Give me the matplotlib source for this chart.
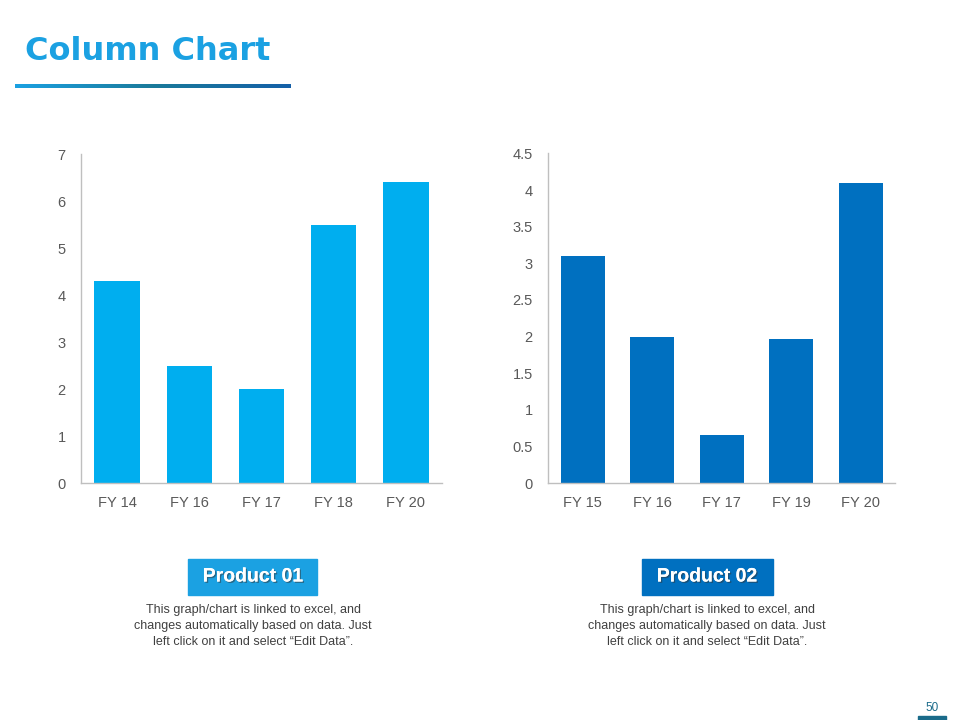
import numpy as np
import matplotlib.pyplot as plt
from matplotlib.patches import Rectangle
from matplotlib.colors import LinearSegmentedColormap
import matplotlib.patheffects as pe

# data
cats_1 = ['FY 14', 'FY 16', 'FY 17', 'FY 18', 'FY 20']
vals_1 = [4.3, 2.5, 2.0, 5.5, 6.4]
cats_2 = ['FY 15', 'FY 16', 'FY 17', 'FY 19', 'FY 20']
vals_2 = [3.1, 2.0, 0.65, 1.97, 4.1]
yticks_1 = [0, 1, 2, 3, 4, 5, 6, 7]
yticks_2 = [0, 0.5, 1, 1.5, 2, 2.5, 3, 3.5, 4, 4.5]
ytick_labels_2 = ['0', '0.5', '1', '1.5', '2', '2.5', '3', '3.5', '4', '4.5']

desc = 'This graph/chart is linked to excel, and\nchanges automatically based on data. Just\nleft click on it and select \u201cEdit Data\u201d.'

plt.rcParams['font.family'] = ['Liberation Sans', 'DejaVu Sans']

fig = plt.figure(figsize=(9.6, 7.2), dpi=100, facecolor='white')

def bar_panel(rect, cats, vals, color, yticks, ylabels):
    ax = fig.add_axes(rect)
    x = np.arange(len(cats))
    ax.bar(x, vals, width=0.63, color=color)
    ax.set_xlim(-0.5, len(cats) - 0.5)
    ax.set_ylim(yticks[0], yticks[-1])
    ax.set_yticks(yticks)
    ax.set_yticklabels(ylabels)
    ax.set_xticks(x)
    ax.set_xticklabels(cats)
    for s in ['top', 'right']:
        ax.spines[s].set_visible(False)
    for s in ['left', 'bottom']:
        ax.spines[s].set_color('#bfbfbf')
        ax.spines[s].set_linewidth(1.0)
    ax.tick_params(length=0, labelsize=10.5, labelcolor='#595959')
    ax.tick_params(axis='y', pad=11)
    ax.tick_params(axis='x', pad=9)
    return ax

bar_panel([0.0844, 0.329, 0.376, 0.457], cats_1, vals_1, '#00aeef',
          yticks_1, [str(v) for v in yticks_1])
bar_panel([0.5708, 0.329, 0.362, 0.458], cats_2, vals_2, '#0070c0',
          yticks_2, ytick_labels_2)

# title
fig.text(25 / 960, 1 - 52 / 720, 'Column Chart', fontsize=23, fontweight='bold',
         color='#1ba1e2', ha='left', va='center', family=['DejaVu Sans'])

# gradient underline
gax = fig.add_axes([15 / 960, 1 - 88 / 720, 276 / 960, 4 / 720])
grad = np.linspace(0, 1, 256).reshape(1, -1)
cmap = LinearSegmentedColormap.from_list('u', ['#1ba1e2', '#1a7a9a', '#1560a8'])
gax.imshow(grad, aspect='auto', cmap=cmap)
gax.axis('off')

# product labels
def label_box(x0, x1, text, color, cx):
    fig.patches.append(Rectangle((x0 / 960, 1 - 595 / 720), (x1 - x0) / 960, 36 / 720,
                                 transform=fig.transFigure, color=color, zorder=1))
    fig.text(cx / 960, 1 - 577 / 720, text, fontsize=14, fontweight='bold', color='white',
             ha='center', va='center', zorder=2,
             path_effects=[pe.withSimplePatchShadow(offset=(1, -1), shadow_rgbFace='#333333', alpha=0.5),
                           pe.Normal()])
    fig.text(cx / 960, 1 - 626 / 720, desc, fontsize=9, color='#404040',
             ha='center', va='center', linespacing=1.45)

label_box(188, 317, 'Product 01', '#1ba1e2', 253)
label_box(642, 773, 'Product 02', '#0070c0', 707)

# page number
fig.text(932 / 960, 1 - 708 / 720, '50', fontsize=8.5, color='#1a6b8a', ha='center', va='center')
fig.patches.append(Rectangle((918 / 960, 0), 28 / 960, 4 / 720,
                             transform=fig.transFigure, color='#1a6b8a'))

plt.savefig('out.png', dpi=100, facecolor='white')
